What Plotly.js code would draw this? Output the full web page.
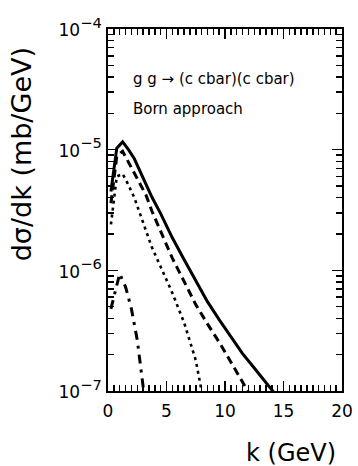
<!DOCTYPE html>
<html>
<head>
<meta charset="utf-8">
<script src="https://cdn.plot.ly/plotly-3.0.1.min.js"></script>
<style>html,body{margin:0;padding:0;background:#fff;}#chart{width:358px;height:466px;}</style>
</head>
<body>
<div id="chart"></div>
<script>
// Data
const kSolid = [0.25, 0.75, 1.25, 1.75, 2.25, 2.75, 3.25, 3.75, 4.5, 5.5, 6.5, 7.5, 8.5, 9.5, 10.5, 11.5, 12.5, 13.5, 14.5];
const ySolid = [4.5e-6, 1.03e-5, 1.16e-5, 1.0e-5, 8.4e-6, 6.6e-6, 5.1e-6, 4.05e-6, 2.95e-6, 1.86e-6, 1.23e-6, 8.3e-7, 5.5e-7, 3.9e-7, 2.8e-7, 2.04e-7, 1.55e-7, 1.17e-7, 8.9e-8];

const kDashed = [0.25, 0.75, 1.25, 1.75, 2.25, 2.75, 3.25, 3.75, 4.5, 5.5, 6.5, 7.5, 8.5, 9.5, 10.5, 11.5, 12.5];
const yDashed = [3.6e-6, 8.8e-6, 9.7e-6, 7.9e-6, 6.4e-6, 5.2e-6, 4.2e-6, 3.1e-6, 2.1e-6, 1.26e-6, 8.1e-7, 5.2e-7, 3.6e-7, 2.54e-7, 1.74e-7, 1.19e-7, 8.1e-8];

const kDotted = [0.25, 0.75, 1.25, 1.75, 2.25, 2.75, 3.25, 3.75, 4.5, 5.5, 6.5, 7.5, 8.0, 8.5];
const yDotted = [2.4e-6, 6.0e-6, 6.3e-6, 5.1e-6, 4.0e-6, 2.94e-6, 2.1e-6, 1.55e-6, 1.07e-6, 6.5e-7, 3.7e-7, 1.8e-7, 1.0e-7, 5.0e-8];

const kDashDot = [0.25, 1.0, 1.5, 2.0, 2.5, 3.0, 3.25];
const yDashDot = [4.8e-7, 9.4e-7, 7.3e-7, 4.8e-7, 2.65e-7, 1.17e-7, 7.0e-8];

const xTickVals = [0, 5, 10, 15, 20];
const xTickText = ['0', '5', '10', '15', '20'];
const yTickVals = [1e-7, 1e-6, 1e-5, 1e-4];
const yExponents = ['\u22127', '\u22126', '\u22125', '\u22124'];

const labelTitle = 'g g \u2192 (c cbar)(c cbar)';
const labelSub = 'Born approach';
const xTitle = 'k (GeV)';
const yTitle = 'd\u03c3/dk (mb/GeV)';

// all tick positions (major + minor), labelled only at the major ones
const xAllVals = [], xAllText = [];
for (let i = 0; i <= 40; i++) {
  const v = i / 2;
  xAllVals.push(v);
  const j = xTickVals.indexOf(v);
  xAllText.push(j >= 0 ? xTickText[j] : '');
}
const yAllVals = [], yAllText = [];
yTickVals.forEach((d, i) => {
  yAllVals.push(d);
  yAllText.push('<span style="font-size:17px">10</span><sup>' + yExponents[i] + '</sup>');
  if (i < yTickVals.length - 1) {
    for (let m = 2; m <= 9; m++) { yAllVals.push(m * d); yAllText.push(''); }
  }
});

const FONT = 'DejaVu Sans, Liberation Sans, sans-serif';

const traces = [
  {x: kSolid, y: ySolid, mode: 'lines', line: {color: '#000', width: 3}},
  {x: kDashed, y: yDashed, mode: 'lines', line: {color: '#000', width: 3, dash: '8px,5px'}},
  {x: kDotted, y: yDotted, mode: 'lines', line: {color: '#000', width: 2.6, dash: '3px,4px'}},
  {x: kDashDot, y: yDashDot, xaxis: 'x2', yaxis: 'y2', mode: 'lines', line: {color: '#000', width: 3, dash: '9px,6px,3px,6px'}}
];

const axisCommon = {
  showgrid: false, zeroline: false, showline: true, linecolor: '#000', linewidth: 2,
  mirror: 'allticks', ticks: 'inside', tickcolor: '#000000', tickwidth: 1.5, ticklen: 6, tickmode: 'array',
  layer: 'above traces'
};
const majorOverlay = {
  showgrid: false, zeroline: false, showline: true, linecolor: '#000', linewidth: 2,
  mirror: 'allticks', ticks: 'inside', tickcolor: '#000000', tickwidth: 1.5, ticklen: 10,
  showticklabels: false, tickmode: 'array', layer: 'above traces'
};

const layout = {
  width: 358, height: 466,
  margin: {l: 108, r: 16, t: 29, b: 75},
  paper_bgcolor: '#fff', plot_bgcolor: '#fff',
  showlegend: false,
  xaxis: Object.assign({}, axisCommon, {
    range: [0, 20], tickvals: xAllVals, ticktext: xAllText, ticklabelstandoff: 4,
    tickfont: {family: FONT, size: 17, color: '#000'}
  }),
  yaxis: Object.assign({}, axisCommon, {
    type: 'log', range: [-7, -4], tickvals: yAllVals, ticktext: yAllText,
    tickfont: {family: FONT, size: 21, color: '#000'}
  }),
  xaxis2: Object.assign({}, majorOverlay, {range: [0, 20], tickvals: xTickVals, overlaying: 'x', anchor: 'y2', side: 'bottom'}),
  yaxis2: Object.assign({}, majorOverlay, {type: 'log', range: [-7, -4], tickvals: yTickVals, overlaying: 'y', anchor: 'x2', side: 'left'}),
  annotations: [
    {text: labelTitle, xref: 'paper', yref: 'paper', x: 0.098, y: 0.862, xanchor: 'left', yanchor: 'middle', showarrow: false, font: {family: FONT, size: 15, color: '#000'}},
    {text: labelSub, xref: 'paper', yref: 'paper', x: 0.098, y: 0.779, xanchor: 'left', yanchor: 'middle', showarrow: false, font: {family: FONT, size: 15, color: '#000'}},
    {text: xTitle, xref: 'paper', yref: 'paper', x: 0.985, y: -0.171, xanchor: 'right', yanchor: 'middle', showarrow: false, font: {family: FONT, size: 24, color: '#000'}},
    {text: yTitle, xref: 'paper', yref: 'paper', x: -0.37, y: 0.655, xanchor: 'center', yanchor: 'middle', textangle: -90, showarrow: false, font: {family: FONT, size: 27, color: '#000'}}
  ]
};

Plotly.newPlot('chart', traces, layout, {staticPlot: true, displayModeBar: false});
</script>
</body>
</html>
